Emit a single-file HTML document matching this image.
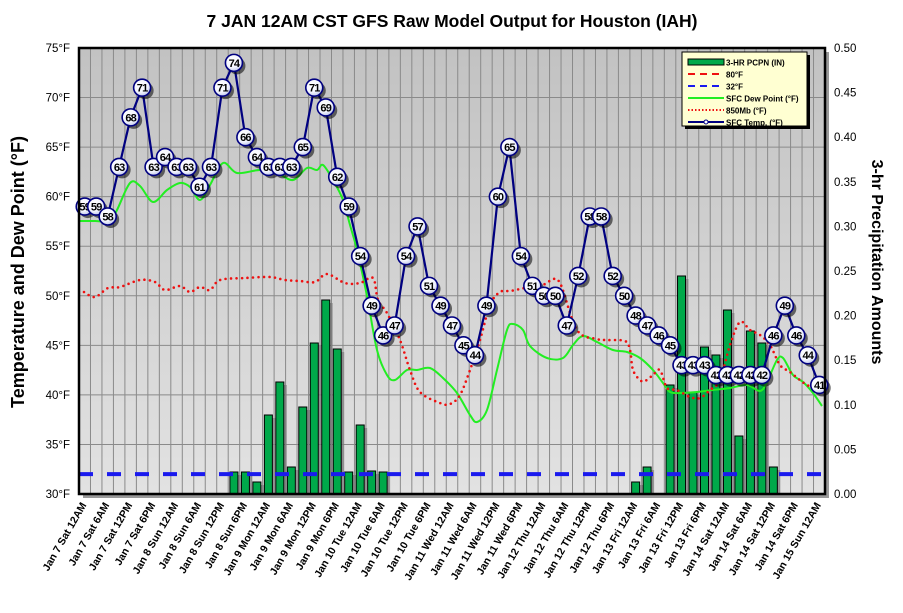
<!DOCTYPE html>
<html><head><meta charset="utf-8"><style>
html,body{margin:0;padding:0;background:#fff;}
svg{display:block;font-family:"Liberation Sans",Arial,sans-serif;}
</style></head><body>
<svg id="s" width="903" height="613" xmlns="http://www.w3.org/2000/svg">
<defs>
<linearGradient id="bg" x1="0" y1="0" x2="0" y2="1"><stop offset="0" stop-color="#c2c2c2"/><stop offset="1" stop-color="#e2e2e2"/></linearGradient>
<radialGradient id="mk" cx="0.4" cy="0.35" r="0.7"><stop offset="0" stop-color="#ffffff"/><stop offset="0.6" stop-color="#f4f6ff"/><stop offset="1" stop-color="#b8c0e8"/></radialGradient>
</defs>
</svg>
<script>
var s=document.getElementById('s');var NS='http://www.w3.org/2000/svg';
function el(t,a,p){var e=document.createElementNS(NS,t);for(var k in a)e.setAttribute(k,a[k]);(p||s).appendChild(e);return e;}
function tx(x,y,str,a){var e=el('text',Object.assign({x:x,y:y},a));e.textContent=str;return e;}
var L=79,R=825,T=48,B=494,W=(R-L)/65;
function X(i){return L+W*(i+0.5);}
function Y(t){return B-(t-30)*(B-T)/45;}
el('rect',{x:L+4,y:T+4,width:R-L,height:B-T,fill:'#999'});
el('rect',{x:L,y:T,width:R-L,height:B-T,fill:'url(#bg)'});
for(var i=1;i<65;i++){el('line',{x1:L+W*i,y1:T,x2:L+W*i,y2:B,stroke:'#8a8a8a','stroke-width':1});}
for(var t=35;t<75;t+=5){el('line',{x1:L,y1:Y(t),x2:R,y2:Y(t),stroke:'#8a8a8a','stroke-width':1});}
var bars={13:472,14:472,15:482,16:415,17:382,18:467,19:407,20:343,21:300,22:349,23:472,24:425,25:471,26:472,
48:482,49:467,51:385,52:276,53:392,54:347,55:355,56:310,57:436,58:331,59:343,60:467};
for(var k in bars){var cx=X(+k);el('rect',{x:cx-4+3,y:bars[k]+3,width:8,height:B-bars[k]-3,fill:'#777',opacity:0.6});}
for(var k in bars){var cx=X(+k);el('rect',{x:cx-4,y:bars[k],width:8,height:B-bars[k],fill:'#00a94a',stroke:'#000','stroke-width':1});}
el('line',{x1:L,y1:Y(32),x2:R,y2:Y(32),stroke:'#1a1aee','stroke-width':4,'stroke-dasharray':'14 14'});
function smooth(p){var d='M'+p[0][0]+','+p[0][1];for(var i=0;i<p.length-1;i++){var p0=p[i-1]||p[i],p1=p[i],p2=p[i+1],p3=p[i+2]||p2;
d+=' C'+(p1[0]+(p2[0]-p0[0])/6)+','+(p1[1]+(p2[1]-p0[1])/6)+' '+(p2[0]-(p3[0]-p1[0])/6)+','+(p2[1]-(p3[1]-p1[1])/6)+' '+p2[0]+','+p2[1];}return d;}
var dew=[[80,221],[95,221],[110,221],[117,210],[130,183],[140,186],[153,202],[167,190],[180,183],[190,187],[200,200],[210,185],[223,163],[237,173],[260,170],[277,173],[293,180],[307,168],[317,170],[323,165],[333,180],[343,200],[350,225],[357,250],[367,296],[377,350],[387,375],[395,380],[407,370],[417,370],[430,368],[443,378],[457,393],[470,415],[477,422],[487,410],[497,370],[507,330],[513,324],[523,330],[530,346],[547,358],[563,358],[573,345],[583,336],[597,342],[613,350],[627,352],[640,358],[653,370],[663,383],[670,392],[680,393],[697,392],[713,390],[730,388],[747,385],[760,391],[767,382],[777,360],[783,358],[793,375],[803,382],[813,393],[822,406]];
el('path',{d:smooth(dew),fill:'none',stroke:'#22ee22','stroke-width':2});
var mb=[[84,292],[95,297],[108,288],[120,287],[140,280],[155,282],[165,290],[180,286],[190,292],[200,287],[210,290],[220,280],[245,278],[270,277],[285,280],[300,281],[315,282],[327,274],[345,283],[360,283],[373,278],[378,300],[387,313],[400,340],[410,370],[420,392],[440,403],[450,404],[460,395],[470,370],[480,340],[490,305],[500,292],[510,291],[520,289],[530,287],[540,287],[550,281],[560,283],[577,330],[597,339],[607,340],[625,341],[630,350],[633,370],[640,380],[645,381],[653,375],[660,370],[667,388],[677,390],[690,397],[700,398],[710,390],[720,380],[730,345],[740,322],[750,330],[760,335],[770,345],[780,365],[790,372],[807,385],[820,388]];
el('path',{d:smooth(mb),fill:'none',stroke:'#ee1111','stroke-width':2.6,'stroke-linecap':'round','stroke-dasharray':'0 5.5'});
var temp=[59,59,58,63,68,71,63,64,63,63,61,63,71,74,66,64,63,63,63,65,71,69,62,59,54,49,46,47,54,57,51,49,47,45,44,49,60,65,54,51,50,50,47,52,58,58,52,50,48,47,46,45,43,43,43,42,42,42,42,42,46,49,46,44,41];
var adj={13:73.5};
var pts=temp.map(function(v,i){return X(i)+','+Y(adj[i]||v);}).join(' ');
el('polyline',{points:pts,fill:'none',stroke:'#000080','stroke-width':2.2});
temp.forEach(function(v,i){var x=X(i),y=Y(adj[i]||v);
el('circle',{cx:x+3,cy:y+3,r:8.5,fill:'#000',opacity:0.55});
el('circle',{cx:x,cy:y,r:8.5,fill:'url(#mk)',stroke:'#000080','stroke-width':1.6});
tx(x,y+4,String(v),{'text-anchor':'middle','font-size':'11','font-weight':'bold',fill:'#000','letter-spacing':'-0.8'});});
el('rect',{x:L,y:T,width:R-L,height:B-T,fill:'none',stroke:'#000','stroke-width':2.5});
for(var t=30;t<=75;t+=5){tx(70,Y(t)+4,t+'°F',{'text-anchor':'end','font-size':'11.5',fill:'#000'});}
for(var j=0;j<=10;j++){var v=j*0.05;tx(834,B-j*(B-T)/10+4,v.toFixed(2),{'font-size':'11.5',fill:'#000'});}
var days=['Jan 7 Sat','Jan 8 Sun','Jan 9 Mon','Jan 10 Tue','Jan 11 Wed','Jan 12 Thu','Jan 13 Fri','Jan 14 Sat','Jan 15 Sun'];
var hrs=['12AM','6AM','12PM','6PM'];
for(var n=0;n<33;n++){var lab=days[Math.floor(n/4)]+' '+hrs[n%4];var x=X(2*n)+2,y=B+11;
tx(x,y,lab,{'text-anchor':'end','font-size':'10.5','font-weight':'bold',fill:'#000',transform:'rotate(-60 '+x+' '+y+')'});}
tx(452,27,'7 JAN 12AM CST GFS Raw Model Output for Houston (IAH)',{'text-anchor':'middle','font-size':'17.5','font-weight':'bold',fill:'#000'});
tx(24,272,'Temperature and Dew Point (°F)',{'text-anchor':'middle','font-size':'18','font-weight':'bold',fill:'#000',transform:'rotate(-90 24 272)'});
tx(872,262,'3-hr Precipitation Amounts',{'text-anchor':'middle','font-size':'16','font-weight':'bold',fill:'#000',transform:'rotate(90 872 262)'});
var lx=682,ly=52;
el('rect',{x:lx+3,y:ly+3,width:125,height:74,fill:'#000'});
el('rect',{x:lx,y:ly,width:125,height:74,fill:'#ffffd2',stroke:'#000','stroke-width':1});
var items=['3-HR PCPN (IN)','80°F','32°F','SFC Dew Point (°F)','850Mb (°F)','SFC Temp. (°F)'];
items.forEach(function(t,i){var y=ly+10+i*12;var x1=lx+6,x2=lx+42;
if(i==0)el('rect',{x:x1,y:y-3,width:36,height:6,fill:'#00a94a',stroke:'#000','stroke-width':1});
if(i==1)el('line',{x1:x1,y1:y,x2:x2,y2:y,stroke:'#ee1111','stroke-width':2,'stroke-dasharray':'7 5'});
if(i==2)el('line',{x1:x1,y1:y,x2:x2,y2:y,stroke:'#1a1aee','stroke-width':2,'stroke-dasharray':'7 5'});
if(i==3)el('line',{x1:x1,y1:y,x2:x2,y2:y,stroke:'#22ee22','stroke-width':2});
if(i==4)el('line',{x1:x1,y1:y,x2:x2,y2:y,stroke:'#ee1111','stroke-width':2,'stroke-dasharray':'1.5 2'});
if(i==5){el('line',{x1:x1,y1:y,x2:x2,y2:y,stroke:'#000080','stroke-width':2});el('circle',{cx:(x1+x2)/2,cy:y,r:2,fill:'#fff',stroke:'#000080'});}
tx(x2+2,y+3.5,t,{'font-size':'8','font-weight':'bold',fill:'#000'});});
</script>
</body></html>
